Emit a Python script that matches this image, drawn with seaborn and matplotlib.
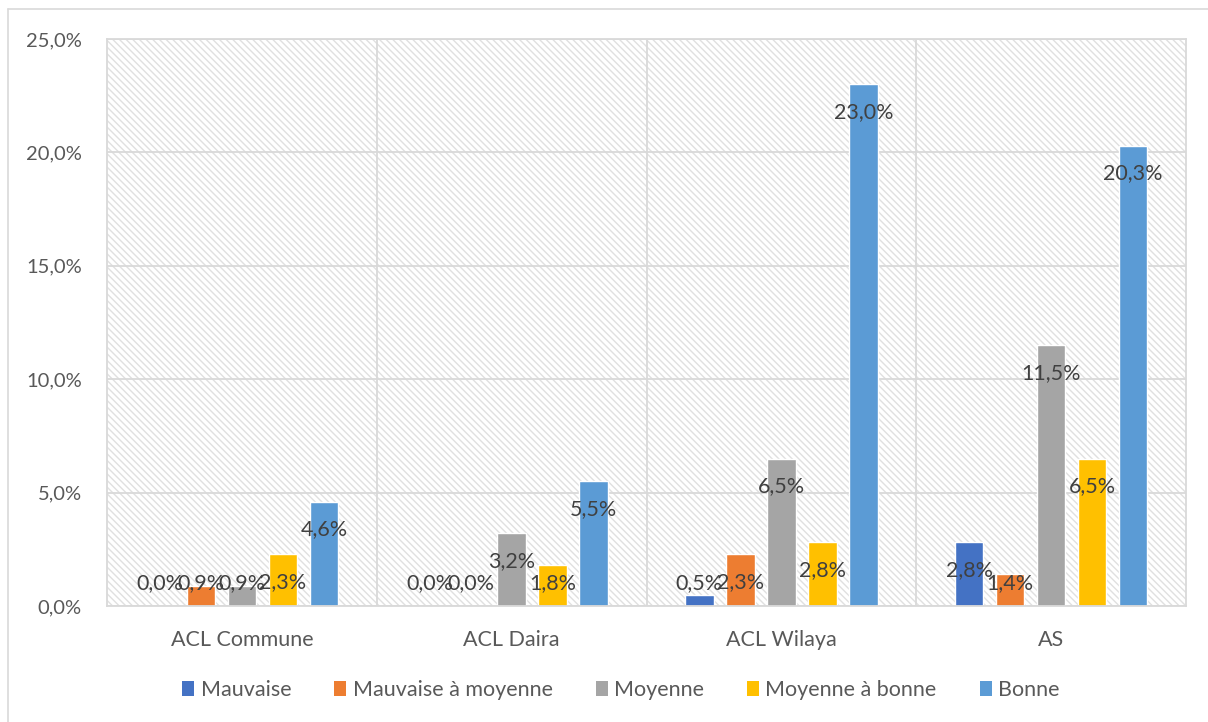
import matplotlib
matplotlib.use("Agg")
import matplotlib.pyplot as plt
import seaborn as sns
import pandas as pd
from matplotlib.patches import Rectangle
from matplotlib.lines import Line2D
from matplotlib.ticker import FixedLocator, FuncFormatter

categories = ["ACL Commune", "ACL Daira", "ACL Wilaya", "AS"]
series = ["Mauvaise", "Mauvaise à moyenne", "Moyenne", "Moyenne à bonne", "Bonne"]
mauvaise = [0.0, 0.0, 0.5, 2.8]
mauvaise_moyenne = [0.9, 0.0, 2.3, 1.4]
moyenne = [0.9, 3.2, 6.5, 11.5]
moyenne_bonne = [2.3, 1.8, 2.8, 6.5]
bonne = [4.6, 5.5, 23.0, 20.3]
colors = ["#4472C4", "#ED7D31", "#A5A5A5", "#FFC000", "#5B9BD5"]

values = [mauvaise, mauvaise_moyenne, moyenne, moyenne_bonne, bonne]
rows = []
for s, vals in zip(series, values):
    for c, v in zip(categories, vals):
        rows.append({"cat": c, "serie": s, "val": v})
df = pd.DataFrame(rows)

sns.set_style("white")
plt.rcParams["font.family"] = ["Lato", "DejaVu Sans"]
plt.rcParams["hatch.linewidth"] = 1.0

fig = plt.figure(figsize=(12.08, 7.22), dpi=100)
ax = fig.add_axes([107 / 1208, 116 / 722, (1186 - 107) / 1208, (606 - 39) / 722])

# chart border (left and top lines)
fig.add_artist(Line2D([8 / 1208, 8 / 1208], [0, 1 - 9 / 722], color="#D9D9D9", lw=1.2,
                      transform=fig.transFigure))
fig.add_artist(Line2D([8 / 1208, 1], [1 - 9 / 722, 1 - 9 / 722], color="#D9D9D9", lw=1.2,
                      transform=fig.transFigure))

# hatched background of plot area
ax.add_patch(Rectangle((0, 0), 1, 1, transform=ax.transAxes, facecolor="white",
                       edgecolor="#E0E0E0", linewidth=0, hatch="\\\\\\\\\\", zorder=0.1))

sns.barplot(data=df, x="cat", y="val", hue="serie", order=categories, hue_order=series,
            palette=colors, width=0.76, gap=0.3, ax=ax, saturation=1, legend=False,
            zorder=2)

ax.set_xlim(-0.5, 3.5)
ax.set_ylim(0, 25)
ax.yaxis.set_major_locator(FixedLocator([0, 5, 10, 15, 20, 25]))
ax.yaxis.set_major_formatter(FuncFormatter(lambda v, p: f"{v:.1f}%".replace(".", ",")))
ax.xaxis.set_minor_locator(FixedLocator([0.5, 1.5, 2.5]))
ax.set_axisbelow(True)
ax.grid(axis="y", which="major", color="#D9D9D9", lw=1.3, zorder=0.5)
ax.grid(axis="x", which="minor", color="#D9D9D9", lw=1.3, zorder=0.5)
ax.set_xlabel("")
ax.set_ylabel("")
for sp in ax.spines.values():
    sp.set_color("#D9D9D9")
    sp.set_linewidth(1.3)
ax.tick_params(axis="both", which="both", length=0, colors="#595959")
ax.tick_params(axis="y", labelsize=14.5, pad=18)
ax.tick_params(axis="x", labelsize=15.5, pad=17)

for cont in ax.containers:
    for bar in cont:
        h = bar.get_height()
        y = max(h - 1.23, 1.0)
        ax.text(bar.get_x() + bar.get_width() / 2, y, f"{h:.1f}%".replace(".", ","),
                ha="center", va="center", fontsize=15.5, color="#404040", zorder=5)

handles = [Rectangle((0, 0), 1, 1, facecolor=c, edgecolor="none") for c in colors]
fig.legend(handles, series, loc="center", bbox_to_anchor=(621 / 1208, 32 / 722), ncol=5,
           frameon=False, fontsize=15.5, handlelength=0.55, handleheight=0.7,
           handletextpad=0.3, columnspacing=2.0, labelcolor="#595959")

fig.savefig("out.png", dpi=100)
